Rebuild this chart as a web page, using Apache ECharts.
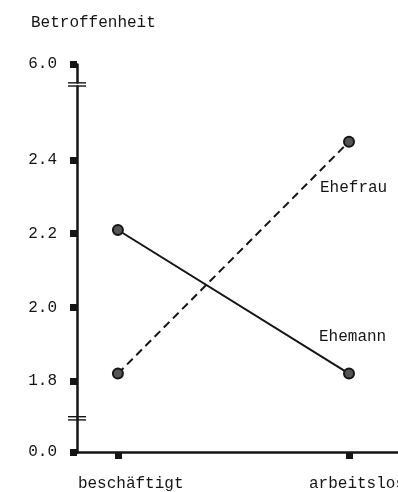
<!DOCTYPE html>
<html>
<head>
<meta charset="utf-8">
<script src="https://cdn.jsdelivr.net/npm/echarts@6/dist/echarts.min.js"></script>
<style>html,body{margin:0;padding:0;background:#fff;}#c{width:398px;height:492px;}</style>
</head>
<body>
<div id="c"></div>
<script>
const categories = ['beschäftigt', 'arbeitslos'];
const ehefrau = [1.82, 2.45];
const ehemann = [2.21, 1.82];
const yTickValues = [0.0, 1.8, 2.0, 2.2, 2.4, 6.0];
const xTickValues = [1, 2];
const yTitle = 'Betroffenheit';
const yBreaks = [
  { start: 0.09, end: 1.7, gap: 0.003 },
  { start: 2.6, end: 5.95, gap: 0.011 }
];

const FONT = '"Liberation Mono", "DejaVu Sans Mono", monospace';
const INK = '#151515';
const chart = echarts.init(document.getElementById('c'), null, { renderer: 'canvas' });

chart.setOption({
  backgroundColor: '#fff',
  animation: false,
  title: {
    text: yTitle, left: 26, top: 10,
    textStyle: { fontFamily: FONT, fontSize: 16, fontWeight: 'normal', color: INK }
  },
  grid: { left: 77, right: 0, top: 64, bottom: 40, containLabel: false, outerBoundsMode: 'none' },
  xAxis: {
    type: 'value', min: 0.823, max: 2.212,
    splitLine: { show: false },
    axisLine: { show: true, lineStyle: { color: INK, width: 2.5 } },
    axisTick: { show: true, customValues: xTickValues, length: 7, lineStyle: { color: INK, width: 7 } },
    axisLabel: {
      customValues: xTickValues,
      formatter: v => categories[Math.round(v) - 1] || '',
      fontFamily: FONT, fontSize: 16, color: INK, margin: 24,
      align: 'left', padding: [0, 0, 0, -40]
    }
  },
  yAxis: {
    type: 'value', min: 0, max: 6,
    breaks: yBreaks,
    breakArea: { show: false },
    splitLine: { show: false },
    axisLine: { show: true, lineStyle: { color: INK, width: 2.5 } },
    axisTick: { show: true, customValues: yTickValues, length: 7, lineStyle: { color: INK, width: 7 } },
    axisLabel: {
      customValues: yTickValues,
      formatter: v => v.toFixed(1),
      fontFamily: FONT, fontSize: 16, color: INK, margin: 20
    }
  },
  series: [
    {
      name: 'Ehemann', type: 'line',
      data: ehemann.map((v, i) => i === ehemann.length - 1
        ? { value: [i + 1, v], label: { show: true, formatter: 'Ehemann', position: 'inside', align: 'left', offset: [-30, -37], fontFamily: FONT, fontSize: 16, color: INK } }
        : [i + 1, v]),
      symbol: 'circle', symbolSize: 10,
      lineStyle: { color: INK, width: 2, type: 'solid' },
      itemStyle: { color: '#555', borderColor: INK, borderWidth: 2 },
      label: { show: false }
    },
    {
      name: 'Ehefrau', type: 'line',
      data: ehefrau.map((v, i) => i === ehefrau.length - 1
        ? { value: [i + 1, v], label: { show: true, formatter: 'Ehefrau', position: 'inside', align: 'left', offset: [-29, 46], fontFamily: FONT, fontSize: 16, color: INK } }
        : [i + 1, v]),
      symbol: 'circle', symbolSize: 10,
      lineStyle: { color: INK, width: 2, type: [8, 5] },
      itemStyle: { color: '#555', borderColor: INK, borderWidth: 2 },
      label: { show: false }
    }
  ]
});

// break marks "=" across the y axis, positioned from the axis scale
const xAxisPx = chart.convertToPixel({ xAxisIndex: 0 }, 0.823);
const marks = [];
yBreaks.forEach(b => {
  const y1 = chart.convertToPixel({ yAxisIndex: 0 }, b.start);
  const y2 = chart.convertToPixel({ yAxisIndex: 0 }, b.end);
  const ym = (y1 + y2) / 2;
  [-1.6, 1.6].forEach(d => {
    marks.push({
      type: 'line', z: 100,
      shape: { x1: xAxisPx - 9, y1: ym + d, x2: xAxisPx + 9, y2: ym + d },
      style: { stroke: INK, lineWidth: 1.4 }
    });
  });
});
chart.setOption({ graphic: marks });
</script>
</body>
</html>
